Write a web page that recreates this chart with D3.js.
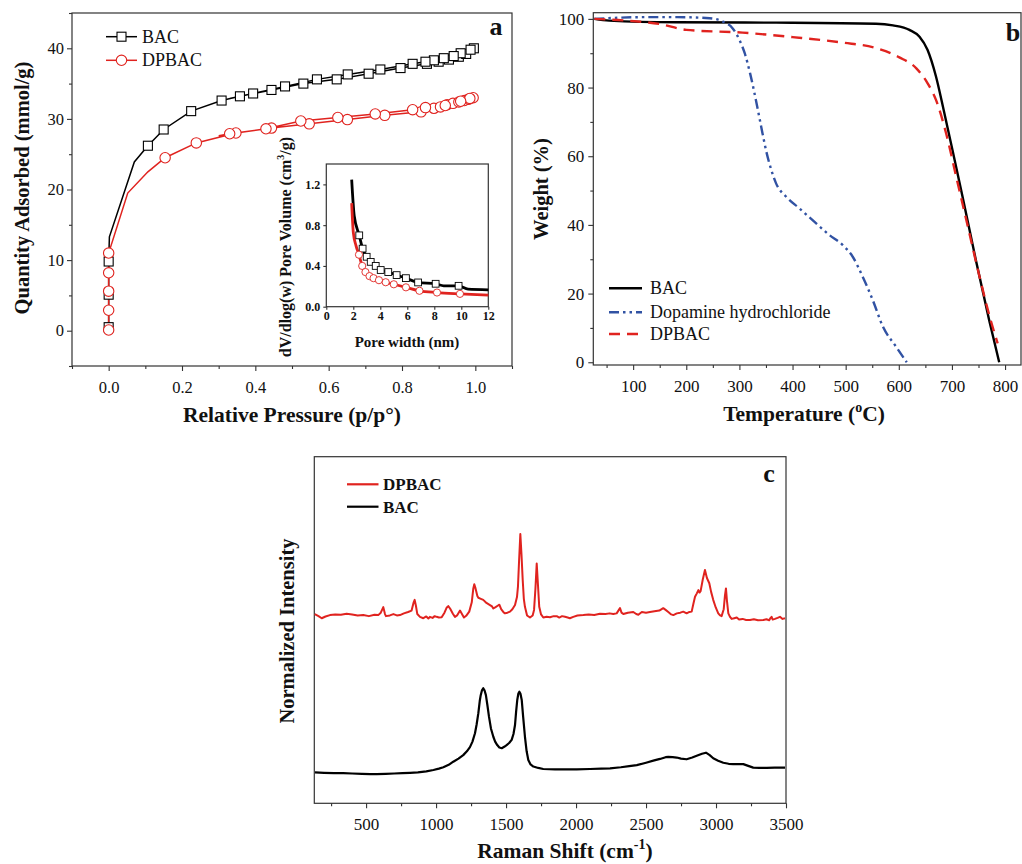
<!DOCTYPE html>
<html>
<head>
<meta charset="utf-8">
<script src="https://cdn.jsdelivr.net/npm/d3@7"></script>
<style>
  body { margin: 0; background: #fff; }
</style>
</head>
<body>
<div id="main-frame"></div>
<script>
const FONT = "'Liberation Serif', 'Times New Roman', serif";
const RED = "#e0231f";
const BLUE = "#3152a3";

// (a) N2 isotherms: [p/p0, mmol/g, marker shown]
const bacIso = [
  [0, 0.5, 1], [0, 5.1, 1], [0, 9.8, 1], [0.002, 13.3, 0], [0.07, 23.9, 0],
  [0.107, 26.2, 1], [0.15, 28.5, 1], [0.225, 31.1, 1], [0.308, 32.6, 1], [0.358, 33.2, 1],
  [0.444, 34.1, 1], [0.531, 35.0, 1], [0.622, 35.6, 1], [0.709, 36.4, 1], [0.796, 37.2, 1],
  [0.868, 37.8, 1], [0.9, 38.1, 1], [0.928, 38.4, 1], [0.955, 38.8, 1], [0.975, 39.2, 1],
  [0.996, 40.0, 1], [0.987, 39.8, 1], [0.96, 39.3, 1], [0.941, 38.9, 1], [0.914, 38.6, 1],
  [0.887, 38.3, 1], [0.864, 38.1, 1], [0.829, 37.8, 1], [0.741, 37.0, 1], [0.652, 36.3, 1],
  [0.568, 35.6, 1], [0.481, 34.6, 1], [0.394, 33.6, 1], [0.33, 32.9, 0]
];
const dpbacIso = [
  [0, 0.1, 1], [0, 2.9, 1], [0, 5.6, 1], [0, 8.2, 1], [0, 11.0, 1], [0.052, 19.5, 0],
  [0.107, 22.5, 0], [0.154, 24.5, 1], [0.239, 26.6, 1], [0.347, 28.0, 1], [0.444, 28.7, 1],
  [0.547, 29.3, 1], [0.651, 29.9, 1], [0.753, 30.5, 1], [0.852, 31.0, 1], [0.887, 31.5, 1],
  [0.905, 31.7, 1], [0.923, 32.0, 1], [0.939, 32.2, 1], [0.955, 32.4, 1], [0.97, 32.6, 1],
  [0.982, 32.8, 1], [0.994, 33.0, 1], [0.985, 32.9, 1], [0.96, 32.5, 1], [0.918, 31.9, 1],
  [0.864, 31.6, 1], [0.829, 31.3, 1], [0.727, 30.7, 1], [0.625, 30.2, 1], [0.524, 29.7, 1],
  [0.429, 28.6, 1], [0.33, 27.9, 1], [0.3, 27.6, 0]
];
const isoXTicks = [0, 0.2, 0.4, 0.6, 0.8, 1.0];
const isoXMinor = [-0.1, 0.1, 0.3, 0.5, 0.7, 0.9, 1.1];
const isoYTicks = [0, 10, 20, 30, 40];
const isoYMinor = [-5, 5, 15, 25, 35, 45];

// (a) inset: pore size distribution [nm, cm3/g, marker shown]
const bacPsd = [
  [1.88, 1.247, 0], [2.07, 0.89, 0], [2.44, 0.70, 1], [2.69, 0.57, 1], [2.99, 0.49, 1],
  [3.29, 0.44, 1], [3.66, 0.40, 1], [4.03, 0.36, 1], [4.59, 0.34, 1], [5.21, 0.31, 1],
  [5.9, 0.28, 1], [6.8, 0.238, 1], [8.1, 0.225, 1], [8.7, 0.205, 0], [9.8, 0.205, 1],
  [10.5, 0.172, 0], [12, 0.166, 0]
];
const dpbacPsd = [
  [1.88, 1.016, 0], [2.0, 0.73, 0], [2.2, 0.60, 0], [2.42, 0.51, 1], [2.66, 0.40, 1],
  [2.9, 0.34, 1], [3.2, 0.30, 1], [3.5, 0.28, 1], [3.9, 0.26, 1], [4.4, 0.24, 1],
  [5.0, 0.22, 1], [5.9, 0.19, 1], [6.9, 0.156, 1], [8.2, 0.139, 1], [9.9, 0.126, 1],
  [12, 0.113, 0]
];
const psdXTicks = [0, 2, 4, 6, 8, 10, 12];
const psdYTicks = [0, 0.4, 0.8, 1.2];

// (b) TGA: [temperature °C, weight %]
const bacTga = [
  [27, 100], [55, 99.5], [181, 99.0], [369, 98.9], [557, 98.6], [589, 98.1], [620, 96.8],
  [639, 94.8], [654, 91], [670, 83.2], [683, 74.5], [701, 61.8], [720, 48.2], [745, 29.8],
  [770, 12.3], [789, 0]
];
const dopTga = [
  [27, 100], [118, 100.5], [181, 100.5], [244, 100.2], [269, 99.2], [287, 97.3], [300, 93.9],
  [310, 90], [320, 84.2], [331, 76.4], [341, 68.6], [350, 61.8], [360, 56.0], [369, 52.1],
  [388, 48.2], [413, 44.8], [444, 40.5], [469, 37.1], [494, 34.2], [513, 30.8], [532, 24.9],
  [551, 18.1], [570, 10.4], [595, 4.5], [615, 0]
];
const dpbacTga = [
  [27, 100], [87, 99.5], [150, 98.5], [200, 96.8], [306, 96.0], [400, 94.7], [494, 93.1],
  [557, 91.5], [601, 88.8], [633, 85.6], [654, 81.3], [670, 76.4], [689, 66.7], [708, 54.1],
  [727, 41.5], [752, 24.9], [771, 13.3], [786, 5.5]
];
const tgaXTicks = [100, 200, 300, 400, 500, 600, 700, 800];
const tgaXMinor = [50, 150, 250, 350, 450, 550, 650, 750];
const tgaYTicks = [0, 20, 40, 60, 80, 100];
const tgaYMinor = [10, 30, 50, 70, 90];

// (c) Raman: [shift cm-1, normalized intensity (offset)]
const dpbacRaman = [
  [133, 54.6], [160, 54.0], [183, 53.4], [210, 53.9], [242, 54.3], [280, 54.5], [320, 54.4],
  [361, 54.7], [400, 54.5], [440, 54.2], [480, 54.3], [520, 54.0], [560, 54.4], [587, 54.3],
  [605, 55.0], [623, 56.6], [635, 54.6], [642, 54.0], [670, 54.2], [695, 54.6], [720, 54.2],
  [742, 54.3], [770, 54.8], [800, 55.2], [825, 55.6], [840, 58.0], [847, 58.7], [856, 57.0],
  [866, 54.6], [885, 53.8], [909, 53.4], [930, 53.9], [945, 53.3], [956, 53.8], [975, 53.5],
  [990, 54.0], [1004, 53.8], [1020, 53.6], [1040, 53.7], [1060, 55.0], [1075, 56.4],
  [1087, 56.9], [1100, 56.2], [1120, 54.7], [1135, 53.8], [1150, 54.2], [1171, 55.6],
  [1185, 54.6], [1199, 53.6], [1215, 54.1], [1237, 55.3], [1255, 58.0], [1266, 62.0],
  [1273, 63.2], [1282, 62.0], [1295, 59.8], [1302, 59.3], [1320, 59.0], [1337, 58.7],
  [1360, 57.8], [1385, 57.2], [1400, 56.8], [1409, 56.2], [1425, 56.6], [1440, 57.0],
  [1452, 57.3], [1465, 56.0], [1480, 55.2], [1492, 54.8], [1510, 55.0], [1528, 55.3],
  [1545, 56.0], [1564, 57.2], [1578, 59.5], [1585, 62.5], [1593, 70.0], [1602, 77.7],
  [1610, 72.0], [1619, 64.4], [1627, 59.0], [1635, 56.7], [1650, 54.2], [1671, 53.6],
  [1690, 54.2], [1700, 55.8], [1710, 62.0], [1719, 69.2], [1728, 63.0], [1737, 56.7],
  [1750, 54.5], [1766, 53.6], [1790, 53.8], [1814, 53.7], [1840, 54.0], [1862, 54.0],
  [1880, 53.6], [1900, 54.0], [1921, 53.8], [1940, 53.6], [1956, 53.4], [1980, 53.8],
  [2010, 54.2], [2052, 54.3], [2090, 54.5], [2130, 54.3], [2171, 54.7], [2210, 54.6],
  [2240, 54.8], [2266, 54.6], [2290, 54.8], [2314, 56.3], [2325, 55.0], [2338, 54.6],
  [2370, 55.0], [2409, 55.2], [2430, 54.6], [2445, 54.4], [2470, 55.2], [2500, 55.0],
  [2528, 55.2], [2560, 55.4], [2595, 55.6], [2623, 56.3], [2640, 55.8], [2659, 55.2],
  [2680, 54.5], [2695, 54.3], [2720, 54.8], [2745, 55.0], [2766, 55.3], [2790, 54.8],
  [2810, 55.2], [2826, 55.3], [2838, 57.5], [2850, 59.6], [2862, 60.5], [2874, 61.5],
  [2882, 60.8], [2890, 61.2], [2905, 64.5], [2921, 67.3], [2935, 65.0], [2952, 63.5],
  [2965, 61.0], [2980, 58.7], [2998, 56.5], [3016, 54.8], [3030, 54.2], [3040, 54.0],
  [3055, 56.0], [3064, 60.0], [3071, 62.0], [3078, 58.5], [3088, 54.8], [3100, 53.8],
  [3112, 53.2], [3130, 53.4], [3148, 53.6], [3165, 53.0], [3190, 53.2], [3215, 52.9],
  [3243, 52.9], [3270, 53.1], [3300, 52.8], [3338, 52.9], [3360, 53.1], [3380, 52.8],
  [3390, 53.5], [3397, 53.8], [3405, 53.0], [3421, 53.2], [3440, 53.5], [3457, 53.8],
  [3475, 53.2], [3493, 53.4]
];
const bacRaman = [
  [135, 8.9], [200, 8.8], [270, 8.7], [337, 8.7], [400, 8.6], [470, 8.5], [530, 8.4],
  [576, 8.4], [640, 8.5], [700, 8.6], [760, 8.7], [814, 8.8], [870, 8.9], [930, 9.2],
  [981, 9.6], [1020, 10.0], [1052, 10.4], [1090, 11.1], [1123, 12.0], [1160, 12.9],
  [1194, 13.9], [1220, 15.0], [1242, 16.2], [1260, 17.8], [1278, 20.2], [1290, 22.8],
  [1302, 26.0], [1312, 29.5], [1319, 31.2], [1328, 32.6], [1337, 33.2], [1346, 32.6],
  [1356, 31.2], [1366, 28.5], [1378, 25.0], [1392, 21.6], [1409, 19.2], [1422, 17.8],
  [1437, 16.8], [1452, 16.1], [1469, 15.9], [1487, 16.3], [1504, 16.8], [1522, 17.4],
  [1540, 18.3], [1553, 20.0], [1564, 22.6], [1572, 26.5], [1580, 29.8], [1588, 31.7],
  [1595, 32.2], [1603, 31.6], [1612, 29.8], [1622, 25.0], [1635, 19.2], [1647, 15.0],
  [1659, 12.5], [1675, 11.2], [1695, 10.6], [1730, 10.2], [1766, 9.9], [1850, 9.8],
  [1950, 9.8], [2005, 9.8], [2100, 9.9], [2180, 10.0], [2243, 10.1], [2320, 10.4],
  [2380, 10.7], [2434, 11.0], [2500, 11.7], [2552, 12.3], [2600, 12.8], [2640, 13.3],
  [2659, 13.4], [2690, 13.3], [2719, 13.2], [2750, 12.9], [2790, 12.7], [2830, 13.2],
  [2862, 13.7], [2900, 14.3], [2928, 14.6], [2955, 13.9], [2980, 13.0], [3015, 12.3],
  [3052, 11.7], [3090, 11.4], [3123, 11.3], [3160, 11.3], [3195, 11.3], [3230, 10.8],
  [3266, 10.3], [3310, 10.2], [3362, 10.2], [3420, 10.3], [3493, 10.3]
];
const ramanXTicks = [500, 1000, 1500, 2000, 2500, 3000, 3500];
const ramanXMinor = [250, 750, 1250, 1750, 2250, 2750, 3250];

const svg = d3
  .select("#main-frame")
  .append("svg")
  .attr("width", 1022)
  .attr("height", 864)
  .style("display", "block")
  .style("font-family", FONT);

function frame(box, sw) {
  svg
    .append("rect")
    .attr("x", box.x0)
    .attr("y", box.y0)
    .attr("width", box.x1 - box.x0)
    .attr("height", box.y1 - box.y0)
    .attr("fill", "none")
    .attr("stroke", "#333")
    .attr("stroke-width", sw || 1.2);
}

// draws outward ticks on the bottom and (optionally) left edge
function axes(box, x, y, o) {
  const gx = svg.append("g").attr("transform", `translate(0,${box.y1})`);
  if (o.xMinor)
    gx.append("g").call(d3.axisBottom(x).tickValues(o.xMinor).tickSize(o.minor).tickFormat(""));
  gx.append("g").call(
    d3.axisBottom(x).tickValues(o.xTicks).tickSize(o.major).tickPadding(o.padX).tickFormat(o.xFmt)
  );
  if (o.yTicks) {
    const gy = svg.append("g").attr("transform", `translate(${box.x0},0)`);
    if (o.yMinor)
      gy.append("g").call(d3.axisLeft(y).tickValues(o.yMinor).tickSize(o.minor).tickFormat(""));
    gy.append("g").call(
      d3.axisLeft(y).tickValues(o.yTicks).tickSize(o.major).tickPadding(o.padY).tickFormat(o.yFmt)
    );
    styleAxis(gy, o);
  }
  styleAxis(gx, o);
}

function styleAxis(g, o) {
  g.selectAll(".domain").remove();
  g.selectAll("line").attr("stroke", "#333").attr("stroke-width", 1.1);
  g.selectAll("text")
    .attr("font-family", FONT)
    .attr("font-size", o.fs)
    .attr("font-weight", o.bold ? "bold" : "normal")
    .attr("fill", "#111");
}

function label(txt, x, y, size, rotate, anchor) {
  return svg
    .append("text")
    .attr("x", x)
    .attr("y", y)
    .attr("text-anchor", anchor || "middle")
    .attr("font-size", size)
    .attr("font-weight", "bold")
    .attr("fill", "#111")
    .attr("transform", rotate ? `rotate(-90,${x},${y})` : null)
    .text(txt);
}

// ----- panel a -----
const boxA = { x0: 72, x1: 512, y0: 13, y1: 366 };
const xa = d3.scaleLinear().domain([-0.1, 1.1]).range([boxA.x0, boxA.x1]);
const ya = d3.scaleLinear().domain([-5, 45]).range([boxA.y1, boxA.y0]);
frame(boxA);
axes(boxA, xa, ya, {
  xTicks: isoXTicks, xMinor: isoXMinor, yTicks: isoYTicks, yMinor: isoYMinor,
  major: 5, minor: 3, padX: 10, padY: 3, fs: 16.5,
  xFmt: d3.format(".1f"), yFmt: d3.format("d")
});

const lineA = d3.line().x((d) => xa(d[0])).y((d) => ya(d[1]));
svg.append("path").attr("d", lineA(bacIso)).attr("fill", "none").attr("stroke", "#000").attr("stroke-width", 1.5);
svg.append("path").attr("d", lineA(dpbacIso)).attr("fill", "none").attr("stroke", RED).attr("stroke-width", 1.5);

svg.append("g").selectAll("rect").data(bacIso.filter((d) => d[2])).enter().append("rect")
  .attr("x", (d) => xa(d[0]) - 4.5).attr("y", (d) => ya(d[1]) - 4.5)
  .attr("width", 9).attr("height", 9)
  .attr("fill", "#fff").attr("stroke", "#000").attr("stroke-width", 1.1);
svg.append("g").selectAll("circle").data(dpbacIso.filter((d) => d[2])).enter().append("circle")
  .attr("cx", (d) => xa(d[0])).attr("cy", (d) => ya(d[1])).attr("r", 5.2)
  .attr("fill", "#fff").attr("stroke", RED).attr("stroke-width", 1.1);

// legend a
const legA = svg.append("g");
legA.append("line").attr("x1", 106).attr("x2", 137).attr("y1", 36.7).attr("y2", 36.7).attr("stroke", "#000").attr("stroke-width", 1.5);
legA.append("rect").attr("x", 117).attr("y", 32.2).attr("width", 9).attr("height", 9).attr("fill", "#fff").attr("stroke", "#000").attr("stroke-width", 1.1);
legA.append("line").attr("x1", 106).attr("x2", 137).attr("y1", 60.3).attr("y2", 60.3).attr("stroke", RED).attr("stroke-width", 1.5);
legA.append("circle").attr("cx", 121.5).attr("cy", 60.3).attr("r", 5.2).attr("fill", "#fff").attr("stroke", RED).attr("stroke-width", 1.1);
legA.append("text").attr("x", 142).attr("y", 42.8).attr("font-size", 18).attr("fill", "#111").text("BAC");
legA.append("text").attr("x", 142).attr("y", 66.4).attr("font-size", 18).attr("fill", "#111").text("DPBAC");

label("Quantity Adsorbed (mmol/g)", 29, 188, 20.5, true);
label("Relative Pressure (p/p\u00b0)", 292, 422, 21.5);
label("a", 496, 35, 26);

// inset
const boxI = { x0: 326.3, x1: 488.3, y0: 164, y1: 306.7 };
const xi = d3.scaleLinear().domain([0, 12]).range([boxI.x0, boxI.x1]);
const yi = d3.scaleLinear().domain([0, 1.4]).range([boxI.y1, boxI.y0]);
svg.append("rect").attr("x", boxI.x0).attr("y", boxI.y0).attr("width", boxI.x1 - boxI.x0)
  .attr("height", boxI.y1 - boxI.y0).attr("fill", "#fff");
frame(boxI);
axes(boxI, xi, yi, {
  xTicks: psdXTicks, yTicks: psdYTicks, major: 3, minor: 2, padX: 2, padY: 3, fs: 12, bold: true,
  xFmt: d3.format("d"), yFmt: d3.format(".1f")
});
const lineI = d3.line().x((d) => xi(d[0])).y((d) => yi(d[1])).curve(d3.curveMonotoneX);
svg.append("path").attr("d", lineI(bacPsd)).attr("fill", "none").attr("stroke", "#000").attr("stroke-width", 2.8);
svg.append("path").attr("d", lineI(dpbacPsd)).attr("fill", "none").attr("stroke", RED).attr("stroke-width", 2.8);
svg.append("g").selectAll("rect").data(bacPsd.filter((d) => d[2])).enter().append("rect")
  .attr("x", (d) => xi(d[0]) - 3.4).attr("y", (d) => yi(d[1]) - 3.4)
  .attr("width", 6.8).attr("height", 6.8)
  .attr("fill", "#fff").attr("stroke", "#000").attr("stroke-width", 0.9);
svg.append("g").selectAll("circle").data(dpbacPsd.filter((d) => d[2])).enter().append("circle")
  .attr("cx", (d) => xi(d[0])).attr("cy", (d) => yi(d[1])).attr("r", 3.6)
  .attr("fill", "#fff").attr("stroke", RED).attr("stroke-width", 0.9);

const ilab = label("dV/dlog(w) Pore Volume (cm", 291, 247, 16, true);
ilab.append("tspan").attr("font-size", 10).attr("dy", -7).text("3");
ilab.append("tspan").attr("dy", 7).text("/g)");
label("Pore width (nm)", 407, 347, 15);

// ----- panel b -----
const boxB = { x0: 593.3, x1: 1021, y0: 12.7, y1: 365 };
const xb = d3.scaleLinear().domain([25, 830]).range([boxB.x0, boxB.x1]);
const yb = d3.scaleLinear().domain([-0.8, 101.8]).range([boxB.y1, boxB.y0]);
frame(boxB);
axes(boxB, xb, yb, {
  xTicks: tgaXTicks, xMinor: tgaXMinor, yTicks: tgaYTicks, yMinor: tgaYMinor,
  major: 5, minor: 3, padX: 10, padY: 4, fs: 17,
  xFmt: d3.format("d"), yFmt: d3.format("d")
});
const lineB = d3.line().x((d) => xb(d[0])).y((d) => yb(d[1])).curve(d3.curveMonotoneX);
const tgaSeries = [
  { name: "BAC", data: bacTga, color: "#000", dash: null },
  { name: "Dopamine hydrochloride", data: dopTga, color: BLUE, dash: "10,4,2.5,4,2.5,4" },
  { name: "DPBAC", data: dpbacTga, color: RED, dash: "11,7" }
];
tgaSeries.forEach((s, i) => {
  svg.append("path").attr("d", lineB(s.data)).attr("fill", "none").attr("stroke", s.color)
    .attr("stroke-width", 2.4).attr("stroke-dasharray", s.dash);
  const ly = [288.3, 312.3, 334][i];
  svg.append("line").attr("x1", 609).attr("x2", 642).attr("y1", ly).attr("y2", ly)
    .attr("stroke", s.color).attr("stroke-width", 2.4).attr("stroke-dasharray", s.dash);
  svg.append("text").attr("x", 650).attr("y", ly + 6).attr("font-size", 18).attr("fill", "#111").text(s.name);
});
label("Weight (%)", 548, 189, 20.5, true);
const tlab = label("Temperature (", 804, 421, 21.5);
tlab.append("tspan").attr("font-size", 14).attr("dy", -9).text("o");
tlab.append("tspan").attr("dy", 9).text("C)");
label("b", 1013, 41, 26);

// ----- panel c -----
const boxC = { x0: 314.3, x1: 786, y0: 456.7, y1: 803.3 };
const xc = d3.scaleLinear().domain([130, 3500]).range([boxC.x0, boxC.x1]);
const yc = d3.scaleLinear().domain([0, 100]).range([boxC.y1, boxC.y0]);
frame(boxC);
axes(boxC, xc, yc, {
  xTicks: ramanXTicks, xMinor: ramanXMinor, major: 5, minor: 3, padX: 10, fs: 17,
  xFmt: d3.format("d")
});
const lineC = d3.line().x((d) => xc(d[0])).y((d) => yc(d[1]));
svg.append("path").attr("d", lineC(dpbacRaman)).attr("fill", "none").attr("stroke", RED)
  .attr("stroke-width", 2).attr("stroke-linejoin", "round");
svg.append("path").attr("d", lineC(bacRaman)).attr("fill", "none").attr("stroke", "#000")
  .attr("stroke-width", 2.2).attr("stroke-linejoin", "round");

[["DPBAC", RED, 484.3], ["BAC", "#000", 506.7]].forEach(([n, c, ly]) => {
  svg.append("line").attr("x1", 347).attr("x2", 378.5).attr("y1", ly).attr("y2", ly)
    .attr("stroke", c).attr("stroke-width", 2.2);
  svg.append("text").attr("x", 383).attr("y", ly + 6).attr("font-size", 17)
    .attr("font-weight", "bold").attr("fill", "#111").text(n);
});
label("Normalized Intensity", 294, 631, 20.5, true);
const rlab = label("Raman Shift (cm", 565, 858, 21.5);
rlab.append("tspan").attr("font-size", 14).attr("dy", -9).text("-1");
rlab.append("tspan").attr("dy", 9).text(")");
label("c", 769, 481.5, 26);
</script>
</body>
</html>
